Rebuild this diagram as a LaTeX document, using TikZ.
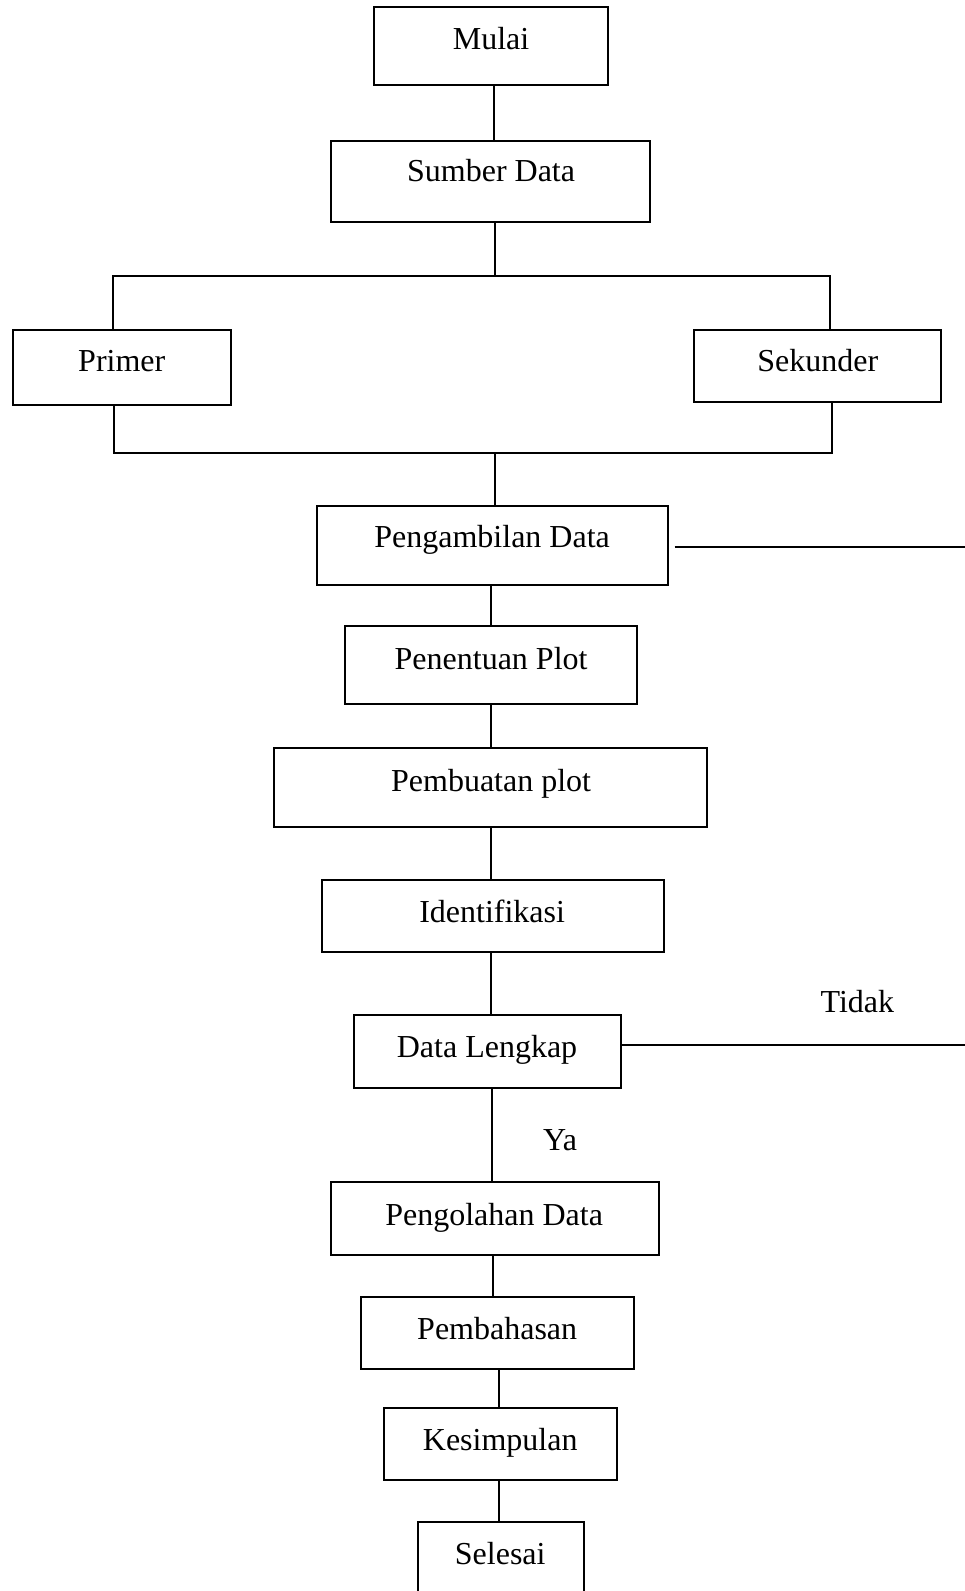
\documentclass[tikz,border=0pt]{standalone}
\usepackage{fontspec}
\setmainfont{Liberation Serif}
\usetikzlibrary{fit}
\begin{document}
\begin{tikzpicture}[x=0.50735pt,y=-0.50735pt,
  box/.style={draw,line width=1pt,inner sep=0pt},
  openbox/.style={inner sep=0pt},
  lbl/.style={inner sep=0pt,text height=0.68em,text depth=0pt,yshift=-2pt,font=\fontsize{16}{19}\selectfont},
  conn/.style={line width=1pt}]
\useasboundingbox[fill=white] (0,0) rectangle (951,1568);
% boxes
\node[box,fit={(369,7)(599,84)}] (mulai) {};
\node[box,fit={(326,139)(641,219)}] (sumber) {};
\node[box,fit={(13,325)(228,399)}] (primer) {};
\node[box,fit={(684,325)(927,396)}] (sekunder) {};
\node[box,fit={(312,499)(658,577)}] (ambil) {};
\node[box,fit={(340,617)(628,694)}] (tentu) {};
\node[box,fit={(270,737)(697,815)}] (buat) {};
\node[box,fit={(317,867)(654,938)}] (ident) {};
\node[box,fit={(349,1000)(612,1072)}] (lengkap) {};
\node[box,fit={(326,1165)(649,1237)}] (olah) {};
\node[box,fit={(356,1278)(625,1349)}] (bahas) {};
\node[box,fit={(378,1388)(608,1459)}] (simpul) {};
\node[openbox,fit={(412,1500)(575,1572)}] (selesai) {};
\draw[conn] (selesai.south west) -- (selesai.north west) -- (selesai.north east) -- (selesai.south east);
% labels
\node[lbl] (tmulai) at (484,38) {Mulai};
\node[lbl] (tsumber) at (484,168) {Sumber Data};
\node[lbl] (tprimer) at (120,355) {Primer};
\node[lbl] (tsekunder) at (806,355) {Sekunder};
\node[lbl] (tambil) at (485,529) {Pengambilan Data};
\node[lbl] (ttentu) at (484,649) {Penentuan Plot};
\node[lbl] (tbuat) at (484,769) {Pembuatan plot};
\node[lbl] (tident) at (485,899) {Identifikasi};
\node[lbl] (tlengkap) at (480,1032) {Data Lengkap};
\node[lbl] (tolah) at (487,1197) {Pengolahan Data};
\node[lbl] (tbahas) at (490,1309) {Pembahasan};
\node[lbl] (tsimpul) at (493,1419) {Kesimpulan};
\node[lbl] (tselesai) at (493,1531) {Selesai};
\node[lbl] (ttidak) at (845,987) {Tidak};
\node[lbl] (tya) at (552,1123) {Ya};
% bus coordinates
\coordinate (btL) at (111,272);
\coordinate (btR) at (818,272);
\coordinate (bbL) at (112,446);
\coordinate (bbR) at (820,446);
\coordinate (edgeA) at (951,539);
\coordinate (edgeB) at (951,1030);
% connectors
\draw[conn] (mulai.south -| 487,0) -- (sumber.north -| 487,0);
\draw[conn] (sumber.south -| 488,0) -- (btL -| 488,0);
\draw[conn] (btL |- primer.north) -- (btL) -- (btR) -- (btR |- sekunder.north);
\draw[conn] (bbL |- primer.south) -- (bbL) -- (bbR) -- (bbR |- sekunder.south);
\draw[conn] (bbL -| 488,0) -- (ambil.north -| 488,0);
\draw[conn] ([xshift=3pt]ambil.east |- edgeA) -- (edgeA);
\draw[conn] (ambil.south -| 484,0) -- (tentu.north -| 484,0);
\draw[conn] (tentu.south -| 484,0) -- (buat.north -| 484,0);
\draw[conn] (buat.south -| 484,0) -- (ident.north -| 484,0);
\draw[conn] (ident.south -| 484,0) -- (lengkap.north -| 484,0);
\draw[conn] (lengkap.east |- edgeB) -- (edgeB);
\draw[conn] (lengkap.south -| 485,0) -- (olah.north -| 485,0);
\draw[conn] (olah.south -| 486,0) -- (bahas.north -| 486,0);
\draw[conn] (bahas.south -| 492,0) -- (simpul.north -| 492,0);
\draw[conn] (simpul.south -| 492,0) -- (selesai.north -| 492,0);
\end{tikzpicture}
\end{document}
